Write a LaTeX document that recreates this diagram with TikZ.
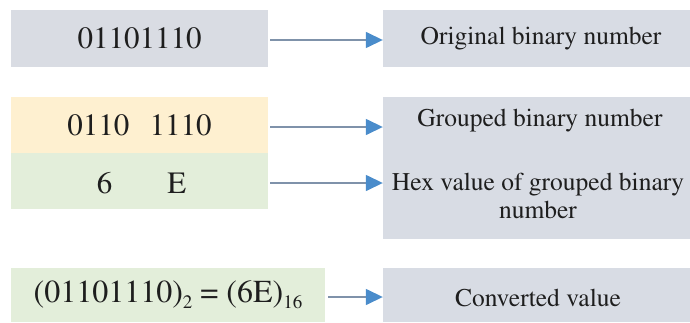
\documentclass[tikz,border=0pt]{standalone}
\usepackage[T1]{fontenc}
\usepackage{times}
\usetikzlibrary{arrows.meta}
\definecolor{leftgray}{HTML}{D9DCE3}
\definecolor{rightgray}{HTML}{D8DCE4}
\definecolor{lightyellow}{HTML}{FEF0D0}
\definecolor{lightgreen}{HTML}{E3EEDA}
\definecolor{linegray}{HTML}{7F92AA}
\definecolor{arrowblue}{HTML}{4A8CCB}
\definecolor{txt}{HTML}{1E1E1E}
\newcommand{\subtxt}[1]{\raisebox{-0.2em}{\fontsize{19}{19}\selectfont #1}}
\begin{document}
\begin{tikzpicture}[x=1pt,y=1pt,
  lbox/.style={rectangle, inner sep=0pt, text=txt, font=\fontsize{31}{36}\selectfont},
  rbox/.style={rectangle, inner sep=0pt, fill=rightgray, minimum width=307pt},
  rtext/.style={inner sep=0pt, text=txt, font=\fontsize{25.5}{28}\selectfont, align=center},
  conn/.style={draw=linegray, line width=1.5pt, -{Triangle[color=arrowblue,length=17pt,width=16pt]}}
]
\useasboundingbox (0,0) rectangle (690,322);
\fill[white] (0,0) rectangle (690,322);

% left boxes
\node[lbox, fill=leftgray, minimum width=257pt, minimum height=57pt] (b1) at (139.5,283.5) {01101110};
\node[lbox, fill=lightyellow, minimum width=257pt, minimum height=56pt] (b2) at (139.5,197) {0110\hspace{0.65em}1110};
\node[lbox, fill=lightgreen, minimum width=257pt, minimum height=56pt] (b3) at (139.5,141) {};
\node[lbox] (b3t) at (141.5,138.5) {6\hspace{55pt}E};
\node[lbox, fill=lightgreen, minimum width=314pt, minimum height=54pt, font=\fontsize{32}{36}\selectfont] (b4) at (168,27)
  {(01101110)\subtxt{2} = (6E)\subtxt{16}};

% right boxes
\node[rbox, minimum height=57pt] (r1) at (536.5,283.5) {};
\node[rbox, minimum height=142pt] (r2) at (536.5,154) {};
\node[rbox, minimum height=54pt] (r4) at (536.5,27) {};

\node[rtext] (t1) at (541,283) {Original binary number};
\node[rtext] (t2) at (540,201) {Grouped binary number};
\node[rtext] (t3) at (538,126) {Hex value of grouped binary\\number};
\node[rtext] (t4) at (538,24) {Converted value};

% connectors
\coordinate (s1) at (270,282);
\coordinate (s2) at (270,195);
\coordinate (s3) at (270,139);
\coordinate (s4) at (328,25);
\draw[conn] (s1) -- (s1 -| r1.west);
\draw[conn] (s2) -- (s2 -| r2.west);
\draw[conn] (s3) -- (s3 -| r2.west);
\draw[conn] (s4) -- (s4 -| r4.west);
\end{tikzpicture}
\end{document}
